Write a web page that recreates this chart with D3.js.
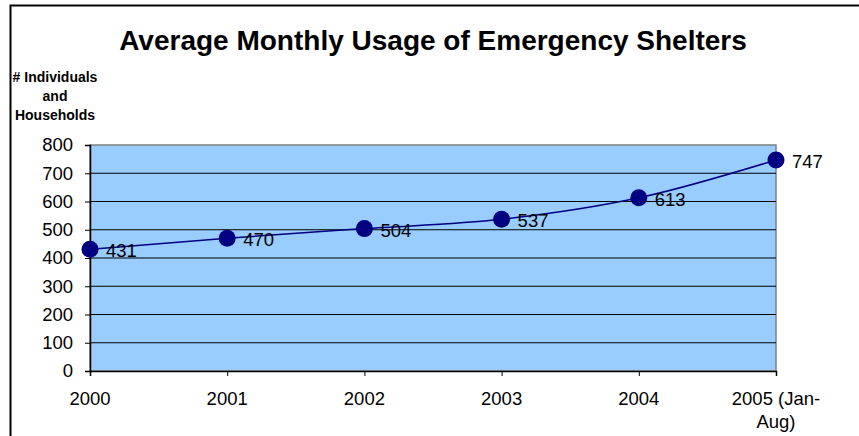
<!DOCTYPE html>
<html>
<head>
<meta charset="utf-8">
<script src="https://cdn.jsdelivr.net/npm/d3@7"></script>
<style>
  body { margin: 0; background: #fff; }
  text { font-family: Arial, "Liberation Sans", sans-serif; }
</style>
</head>
<body>
<div id="chart-area"></div>
<script>
// data
let years = ["2000", "2001", "2002", "2003", "2004", "2005 (Jan-Aug)"];
let usage = [431, 470, 504, 537, 613, 747];
let yTicks = [0, 100, 200, 300, 400, 500, 600, 700, 800];
let yTitle = ["# Individuals", "and", "Households"];

let W = 859, H = 436;
let margin = {top: 145, right: 83, bottom: 65, left: 90};
let width = W - margin.left - margin.right,
    height = H - margin.top - margin.bottom;

let svg = d3.select("#chart-area")
    .append("svg")
    .attr("width", W)
    .attr("height", H);

// outer frame (clipped on right / bottom like the original)
svg.append("rect")
    .attr("x", 10.5).attr("y", 5.5)
    .attr("width", W + 20).attr("height", H + 20)
    .attr("fill", "none")
    .attr("stroke", "#000")
    .attr("stroke-width", 2);

svg.append("text")
    .attr("x", 433).attr("y", 50)
    .attr("text-anchor", "middle")
    .attr("font-size", 28)
    .attr("font-weight", "bold")
    .text("Average Monthly Usage of Emergency Shelters");

svg.append("text")
    .attr("text-anchor", "middle")
    .attr("font-size", 14)
    .attr("font-weight", "bold")
    .selectAll("tspan")
    .data(yTitle)
    .enter().append("tspan")
    .attr("x", 55)
    .attr("y", (d, i) => 82 + i * 19)
    .text(d => d);

let g = svg.append("g")
    .attr("transform", "translate(" + margin.left + "," + margin.top + ")");

let x = d3.scalePoint()
    .domain(years)
    .range([0, width]);

let y = d3.scaleLinear()
    .domain([0, 800])
    .range([height, 0]);

// plot background
g.append("rect")
    .attr("width", width).attr("height", height)
    .attr("fill", "#99ccff")
    .attr("stroke", "#808080")
    .attr("stroke-width", 1.5);

// gridlines
g.selectAll(".grid")
    .data(yTicks.filter(d => d > 0 && d < 800))
    .enter().append("line")
    .attr("x1", 0).attr("x2", width)
    .attr("y1", d => y(d)).attr("y2", d => y(d))
    .attr("stroke", "#000")
    .attr("stroke-width", 1);

// axes
let yAxis = g.append("g")
    .call(d3.axisLeft(y).tickValues(yTicks).tickSize(5).tickPadding(12));
let xAxis = g.append("g")
    .attr("transform", "translate(0," + height + ")")
    .call(d3.axisBottom(x).tickSize(5).tickPadding(12).tickFormat(""));

[yAxis, xAxis].forEach(a => {
    a.select(".domain").attr("stroke", "#000").attr("stroke-width", 1.5);
    a.selectAll(".tick line").attr("stroke", "#000");
});
yAxis.selectAll("text").attr("font-size", 18.5).attr("fill", "#000")
    .attr("font-family", "Arial, 'Liberation Sans', sans-serif");

// x labels, wrapped by hand like Excel does
let xl = g.selectAll(".xlab")
    .data(years)
    .enter().append("text")
    .attr("class", "xlab")
    .attr("text-anchor", "middle")
    .attr("font-size", 18.5)
    .attr("x", d => x(d));
xl.each(function(d) {
    let parts = d.indexOf("(") > 0 ? ["2005 (Jan-", "Aug)"] : [d];
    d3.select(this).selectAll("tspan")
        .data(parts)
        .enter().append("tspan")
        .attr("x", x(d))
        .attr("y", (p, i) => height + 34 + i * 23)
        .text(p => p);
});

// line
let line = d3.line()
    .x((d, i) => x(years[i]))
    .y(d => y(d))
    .curve(d3.curveMonotoneX);

g.append("path")
    .datum(usage)
    .attr("fill", "none")
    .attr("stroke", "#000080")
    .attr("stroke-width", 1.5)
    .attr("d", line);

g.selectAll(".dot")
    .data(usage)
    .enter().append("circle")
    .attr("class", "dot")
    .attr("cx", (d, i) => x(years[i]))
    .attr("cy", d => y(d))
    .attr("r", 8.5)
    .attr("fill", "#000080");

g.selectAll(".val")
    .data(usage)
    .enter().append("text")
    .attr("class", "val")
    .attr("x", (d, i) => x(years[i]) + 16)
    .attr("y", d => y(d) + 8)
    .attr("font-size", 18.5)
    .text(d => d);
</script>
</body>
</html>
